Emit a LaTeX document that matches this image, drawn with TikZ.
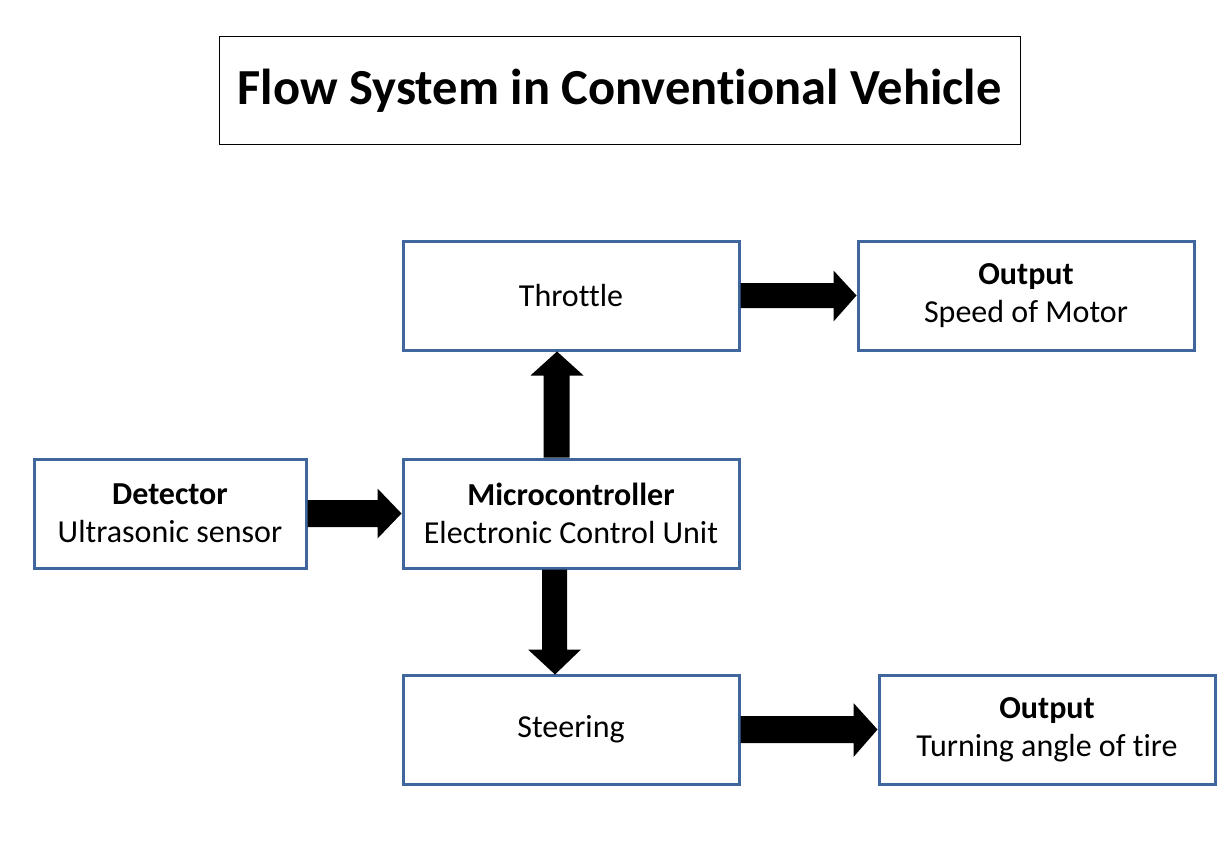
\documentclass[tikz,border=0pt]{standalone}
\usepackage{fontspec}
\setmainfont{Carlito}[Ligatures={NoCommon}]
\usetikzlibrary{calc}
\definecolor{boxblue}{RGB}{63,103,158}
\begin{document}
\begin{tikzpicture}[x=1pt,y=-1pt,
  blockbox/.style={draw=boxblue,line width=3pt,fill=white,minimum width=336pt,minimum height=109pt,inner sep=0pt,align=center,font=\fontsize{32}{38}\selectfont},
  titlebox/.style={draw=black,line width=1pt,minimum width=801pt,minimum height=107pt,inner sep=0pt,font=\fontsize{50.5}{56}\selectfont\bfseries},
  blockarrow/.style={fill=black,draw=none}]
\useasboundingbox (0,0) rectangle (1217,848);
\node[titlebox] (title) at (619.5,90.5) {Flow System in Conventional Vehicle};
\node[blockbox] (thr) at (571,295.5) {Throttle};
\node[blockbox] (out1) at (1026,295.5) {\textbf{Output}\\Speed of Motor};
\node[blockbox,minimum width=272pt] (det) at (170,513.5) {\textbf{Detector}\\Ultrasonic sensor};
\node[blockbox] (mc) at (571,513.5) {\textbf{Microcontroller}\\Electronic Control Unit};
\node[blockbox] (st) at (571,729.5) {Steering};
\node[blockbox] (out2) at (1047,729.5) {\textbf{Output}\\Turning angle of tire};
% detector -> microcontroller
\fill[blockarrow] ($(det.east)+(0,-13.5)$) -- ($(mc.west)+(-24,-13.5)$) -- ($(mc.west)+(-24,-25)$) -- (mc.west)
  -- ($(mc.west)+(-24,25)$) -- ($(mc.west)+(-24,13.5)$) -- ($(det.east)+(0,13.5)$) -- cycle;
% microcontroller -> throttle
\fill[blockarrow] ($(mc.north)+(-27.5,0)$) -- ($(thr.south)+(-27.5,24)$) -- ($(thr.south)+(-40.5,24)$) -- ($(thr.south)+(-14,0)$)
  -- ($(thr.south)+(12.5,24)$) -- ($(thr.south)+(-1.5,24)$) -- ($(mc.north)+(-1.5,0)$) -- cycle;
% microcontroller -> steering
\fill[blockarrow] ($(mc.south)+(-29,0)$) -- ($(st.north)+(-29,-24)$) -- ($(st.north)+(-43,-24)$) -- ($(st.north)+(-16,1)$)
  -- ($(st.north)+(10,-24)$) -- ($(st.north)+(-4,-24)$) -- ($(mc.south)+(-4,0)$) -- cycle;
% throttle -> output 1
\fill[blockarrow] ($(thr.east)+(0,-12.5)$) -- ($(out1.west)+(-23,-12.5)$) -- ($(out1.west)+(-23,-25)$) -- (out1.west)
  -- ($(out1.west)+(-23,26)$) -- ($(out1.west)+(-23,12.5)$) -- ($(thr.east)+(0,12.5)$) -- cycle;
% steering -> output 2
\fill[blockarrow] ($(st.east)+(0,-13.5)$) -- ($(out2.west)+(-24,-13.5)$) -- ($(out2.west)+(-24,-26.5)$) -- (out2.west)
  -- ($(out2.west)+(-24,27.5)$) -- ($(out2.west)+(-24,13.5)$) -- ($(st.east)+(0,13.5)$) -- cycle;
\end{tikzpicture}
\end{document}
